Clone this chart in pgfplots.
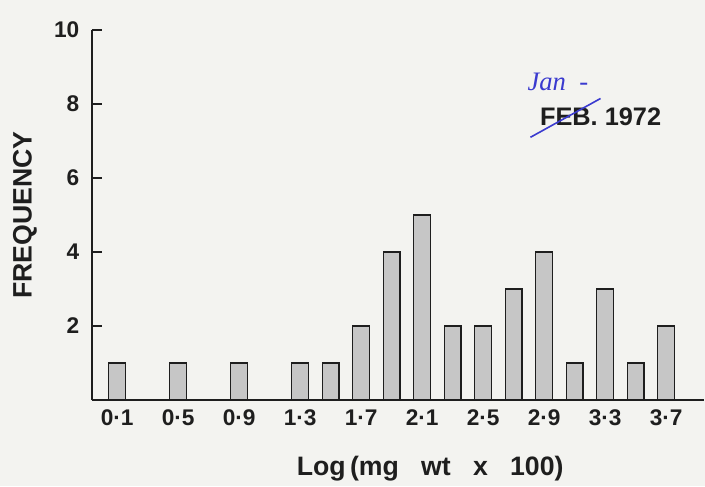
\documentclass[border=0pt]{standalone}
\usepackage{fontspec}
\setmainfont{Liberation Sans}
\newfontfamily\handfont{Liberation Serif}
\usepackage{pgfplots}
\pgfplotsset{compat=1.18}
\definecolor{paper}{HTML}{F3F3F0}
\definecolor{barfill}{HTML}{C6C6C6}
\definecolor{ink}{HTML}{1E1E1E}
\definecolor{pen}{HTML}{3A3ACF}

\begin{document}
\begin{tikzpicture}
% page = 705 x 486 px at 0.75pt/px, axis corner at (92px, 400px from top)
\fill[paper] (-69pt,-64.5pt) rectangle (459.75pt,300pt);
\useasboundingbox (-69pt,-64.5pt) rectangle (459.75pt,300pt);
\begin{axis}[
  at={(0,0)}, anchor=south west,
  scale only axis,
  width=459.2pt, height=277.5pt,
  xmin=-0.065, xmax=3.95,
  ymin=0, ymax=10,
  axis x line=bottom, axis y line=left,
  axis line style={ink, line width=1.8pt, -},
  ytick={2,4,6,8,10},
  xtick={0.1,0.5,0.9,1.3,1.7,2.1,2.5,2.9,3.3,3.7},
  xticklabels={0·1,0·5,0·9,1·3,1·7,2·1,2·5,2·9,3·3,3·7},
  tick align=inside,
  major tick length=7.5pt,
  tick style={ink, line width=1.5pt},
  x tick style={draw=none},
  ticklabel style={font=\fontsize{17}{19}\selectfont\bfseries, text=ink},
  yticklabel style={xshift=-6pt},
  xticklabel style={yshift=-4pt},
  /pgf/number format/assume math mode=true,
  xlabel={Log\,(mg\ \ \ wt\ \ \ x\ \ \ 100)},
  ylabel={FREQUENCY},
  xlabel style={font=\fontsize{20}{22}\selectfont\bfseries, text=ink, yshift=-16pt, xshift=24pt},
  ylabel style={font=\fontsize{20}{22}\selectfont\bfseries, text=ink, yshift=6pt},
  clip=false,
]
\addplot[ybar, bar width=12.5pt, fill=barfill, draw=ink, line width=0.9pt] coordinates {
  (0.1,1) (0.5,1) (0.9,1) (1.3,1) (1.5,1) (1.7,2) (1.9,4) (2.1,5)
  (2.3,2) (2.5,2) (2.7,3) (2.9,4) (3.1,1) (3.3,3) (3.5,1) (3.7,2)
};
\node[font=\fontsize{19}{21}\selectfont\bfseries, text=ink] at (axis cs:3.27,7.65) {FEB. 1972};
\node[font=\fontsize{20}{22}\selectfont\handfont\itshape, text=pen] at (axis cs:2.99,8.6) {Jan\ \ -};
\draw[pen, line width=1.2pt] (axis cs:2.81,7.1) -- (axis cs:3.27,8.15);
\end{axis}
\end{tikzpicture}
\end{document}
